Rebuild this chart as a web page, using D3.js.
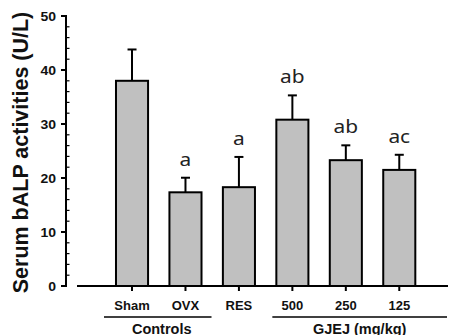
<!DOCTYPE html>
<html><head><meta charset="utf-8">
<script src="https://cdn.jsdelivr.net/npm/d3@7"></script>
<style>body{margin:0;background:#fff}svg{display:block}</style>
</head><body>
<svg id="c" width="451" height="335"></svg>
<script>
const categories = ["Sham","OVX","RES","500","250","125"];
const means = [38.0, 17.35, 18.3, 30.8, 23.3, 21.5];
const errors = [5.8, 2.7, 5.6, 4.5, 2.75, 2.8];
const letters = ["", "a", "a", "ab", "ab", "ac"];
const yTicks = [0,10,20,30,40,50];
const groups = [
  {name:"Controls", from:"Sham", to:"OVX"},
  {name:"GJEJ (mg/kg)", from:"500", to:"125"}
];
const yTitle = "Serum bALP activities (U/L)";

const svg = d3.select("#c");
const y = d3.scaleLinear().domain([0,50]).range([286,16]);
const x = d3.scaleBand().domain(categories).range([105.3,426]).paddingInner(0.4).paddingOuter(0.2);
const bw = x.bandwidth();
const boldFont = "Liberation Sans, Arial, sans-serif";

// y axis
const yAxisX = 66;
svg.append("line").attr("x1",yAxisX).attr("x2",yAxisX).attr("y1",y(0)+1).attr("y2",y(50)-1)
  .attr("stroke","#000").attr("stroke-width",2);
d3.range(0,51,2).filter(v=>v%10!==0).forEach(v=>{
  svg.append("line").attr("x1",yAxisX).attr("x2",yAxisX+3.5).attr("y1",y(v)).attr("y2",y(v))
    .attr("stroke","#000").attr("stroke-width",1.2);
});
yTicks.forEach(v=>{
  svg.append("line").attr("x1",yAxisX-5).attr("x2",yAxisX).attr("y1",y(v)).attr("y2",y(v))
    .attr("stroke","#000").attr("stroke-width",2);
  svg.append("text").attr("transform",`translate(56,${y(v)+4.5}) scale(1.12,1)`).attr("text-anchor","end")
    .attr("font-family",boldFont).attr("font-weight","bold")
    .attr("font-size",12.5).attr("fill","#111").text(v);
});
svg.append("text").attr("transform",`translate(28,152.5) rotate(-90)`).attr("text-anchor","middle")
  .attr("font-family",boldFont).attr("font-weight","bold")
  .attr("font-size",21.5).attr("fill","#111").text(yTitle);

// x axis
svg.append("line").attr("x1",77).attr("x2",448).attr("y1",y(0)).attr("y2",y(0))
  .attr("stroke","#000").attr("stroke-width",2);
categories.forEach(c=>{
  const cx = x(c)+bw/2;
  svg.append("line").attr("x1",cx).attr("x2",cx).attr("y1",y(0)).attr("y2",y(0)+5)
    .attr("stroke","#000").attr("stroke-width",2);
  svg.append("text").attr("x",cx).attr("y",309.5).attr("text-anchor","middle")
    .attr("font-family",boldFont).attr("font-weight","bold")
    .attr("font-size",13).attr("fill","#111").text(c);
});

// bars
categories.forEach((c,i)=>{
  const cx = x(c)+bw/2;
  const top = y(means[i]+errors[i]);
  svg.append("line").attr("x1",cx).attr("x2",cx).attr("y1",y(means[i])).attr("y2",top)
    .attr("stroke","#000").attr("stroke-width",2);
  svg.append("line").attr("x1",cx-4.5).attr("x2",cx+4.5).attr("y1",top).attr("y2",top)
    .attr("stroke","#000").attr("stroke-width",2);
  svg.append("rect").attr("x",x(c)).attr("width",bw).attr("y",y(means[i])).attr("height",y(0)-y(means[i]))
    .attr("fill","#c0c0c0").attr("stroke","#000").attr("stroke-width",2);
  if(letters[i]){
    svg.append("text").attr("transform",`translate(${cx},${top-12}) scale(1.1,1)`).attr("text-anchor","middle")
      .attr("font-family","Noto Sans, Open Sans, sans-serif")
      .attr("font-size",19).attr("fill","#222").text(letters[i]);
  }
});

// group underlines
groups.forEach((g,gi)=>{
  const x1 = gi===0 ? x(g.from) - 12 : x(g.from) - 4;
  const x2 = gi===0 ? x(g.to)+bw+10 : 447;
  svg.append("line").attr("x1",x1).attr("x2",x2).attr("y1",317).attr("y2",317)
    .attr("stroke","#000").attr("stroke-width",1.5);
  const cx = gi===0 ? (x1+x2)/2 + 4 : (x1+x2)/2;
  svg.append("text").attr("x",cx).attr("y",333.5).attr("text-anchor","middle")
    .attr("font-family",boldFont).attr("font-weight","bold")
    .attr("font-size",14.5).attr("fill","#111").text(g.name);
});
</script>
</body></html>
